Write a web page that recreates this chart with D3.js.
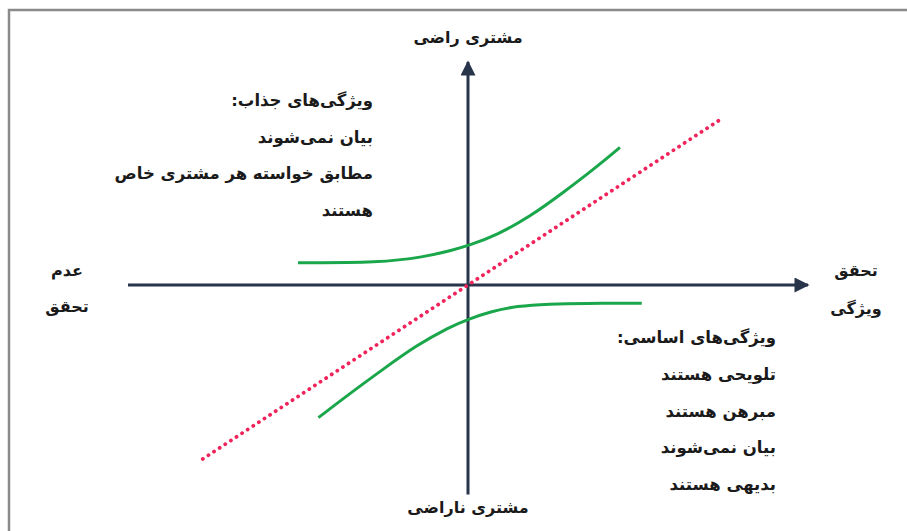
<!DOCTYPE html>
<html>
<head>
<meta charset="utf-8">
<script src="https://cdn.jsdelivr.net/npm/d3@7"></script>
<style>
	html, body { margin: 0; padding: 0; background: #fff; }
	svg { display: block; }
	text { font-family: "DejaVu Sans", sans-serif; font-weight: bold; fill: #1a1a1a; }
</style>
</head>
<body>
<svg id="chart" width="907" height="531"></svg>
<script>
	// axis labels
	const topLabel = 'مشتری راضی';
	const bottomLabel = 'مشتری ناراضی';
	const leftLabel = ['عدم', 'تحقق'];
	const rightLabel = ['تحقق', 'ویژگی'];

	// text blocks
	const attractiveLines = ['ویژگی‌های جذاب:', 'بیان نمی‌شوند', 'مطابق خواسته هر مشتری خاص', 'هستند'];
	const basicLines = ['ویژگی‌های اساسی:', 'تلویحی هستند', 'مبرهن هستند', 'بیان نمی‌شوند', 'بدیهی هستند'];

	// curves [fulfilment, satisfaction]
	const attractiveCurve = [[-5.0, 1.0], [-2.6, 1.0], [-1.3, 1.25], [-0.44, 1.57], [0, 1.76], [0.85, 2.24], [1.82, 3.06], [2.79, 4.13], [3.79, 5.3], [4.47, 6.17]];
	const basicCurve = [[-4.4, -5.95], [-3.47, -4.86], [-2.49, -3.77], [-1.51, -2.7], [-0.53, -1.87], [0, -1.54], [0.65, -1.2], [1.43, -0.94], [2.41, -0.85], [3.38, -0.82], [5.11, -0.82]];
	const performanceLine = [[-7.8, -7.8], [7.4, 7.4]];

	const svg = d3.select('#chart');
	const x = d3.scaleLinear().domain([-10, 10]).range([128, 808]);
	const y = d3.scaleLinear().domain([-10, 10]).range([508, 62]);

	// frame
	svg.append('rect')
		.attr('x', 9).attr('y', 10)
		.attr('width', 940).attr('height', 560)
		.attr('fill', '#fff')
		.attr('stroke', '#8a8a8a')
		.attr('stroke-width', 2.5);

	const axisColor = '#28344a';
	const defs = svg.append('defs');
	defs.append('marker')
		.attr('id', 'arrow')
		.attr('viewBox', '0 0 10 10')
		.attr('refX', 9).attr('refY', 5)
		.attr('markerWidth', 5.5).attr('markerHeight', 5)
		.attr('orient', 'auto')
		.append('path')
		.attr('d', 'M0,0 L10,5 L0,10 Z')
		.attr('fill', axisColor);

	// axes
	svg.append('line')
		.attr('x1', x(-10)).attr('x2', x(10))
		.attr('y1', y(0)).attr('y2', y(0))
		.attr('stroke', axisColor).attr('stroke-width', 3)
		.attr('marker-end', 'url(#arrow)');
	svg.append('line')
		.attr('x1', x(0)).attr('x2', x(0))
		.attr('y1', y(-9.4)).attr('y2', y(10))
		.attr('stroke', axisColor).attr('stroke-width', 3)
		.attr('marker-end', 'url(#arrow)');

	const line = d3.line().x((d) => x(d[0])).y((d) => y(d[1]));
	const smooth = d3.line().x((d) => x(d[0])).y((d) => y(d[1])).curve(d3.curveBasis);

	svg.append('path')
		.attr('d', line(performanceLine))
		.attr('fill', 'none')
		.attr('stroke', '#f0245a')
		.attr('stroke-width', 3.8)
		.attr('stroke-linecap', 'round')
		.attr('stroke-dasharray', '0.1 6.6');

	[attractiveCurve, basicCurve].forEach((c) => {
		svg.append('path')
			.attr('d', smooth(c))
			.attr('fill', 'none')
			.attr('stroke', '#1aa64a')
			.attr('stroke-width', 3);
	});

	// labels
	function label(t, px, py, anchor, size) {
		svg.append('text')
			.attr('x', px).attr('y', py)
			.attr('direction', 'rtl')
			.attr('text-anchor', anchor)
			.attr('font-size', size || 16)
			.text(t);
	}

	label(topLabel, x(0), 43, 'middle');
	label(bottomLabel, x(0), 513, 'middle');
	leftLabel.forEach((t, i) => label(t, 67, 276 + i * 36, 'middle'));
	rightLabel.forEach((t, i) => label(t, 856, 276 + i * 38, 'middle'));
	attractiveLines.forEach((t, i) => label(t, 373, 106 + i * 36.5, 'start', 16.5));
	basicLines.forEach((t, i) => label(t, 776, 343 + i * 36.8, 'start', 16.5));
</script>
</body>
</html>
